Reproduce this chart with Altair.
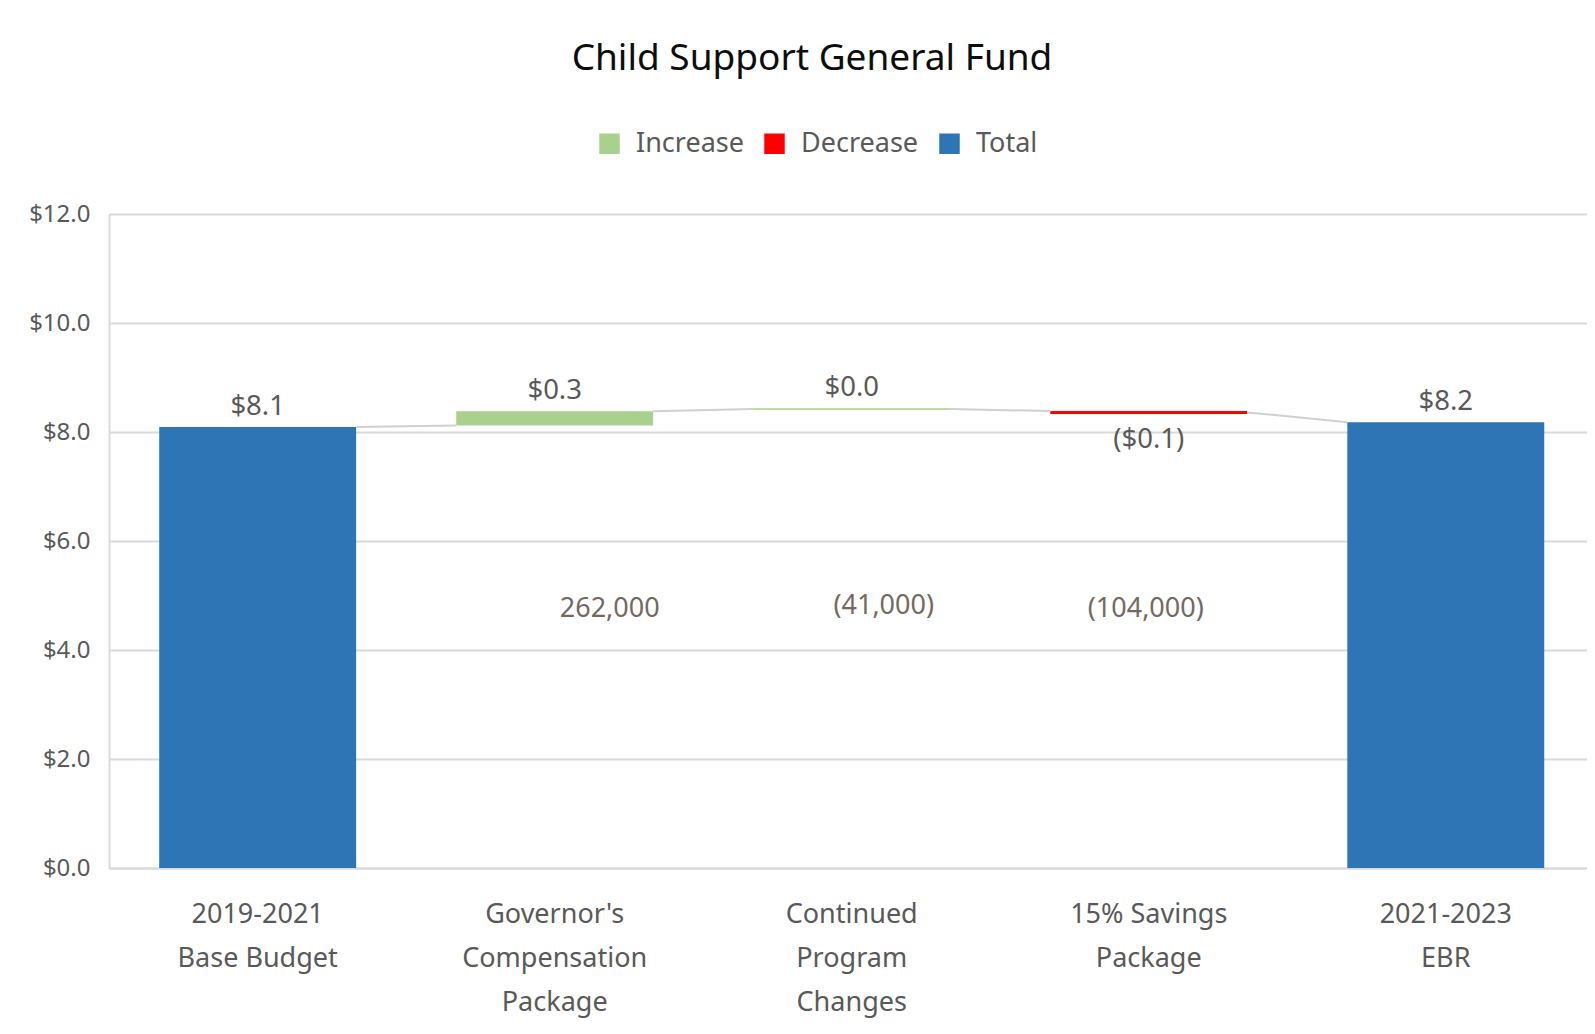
import altair as alt
import pandas as pd

# ---- data ----
categories = ["2019-2021|Base Budget", "Governor's|Compensation|Package",
              "Continued|Program|Changes", "15% Savings|Package", "2021-2023|EBR"]
kinds = ["Total", "Increase", "Increase", "Decrease", "Total"]
bar_start = [0.0, 8.12, 8.41, 8.385, 0.0]
bar_end = [8.09, 8.38, 8.435, 8.33, 8.18]
value_labels = ["$8.1", "$0.3", "$0.0", "($0.1)", "$8.2"]

conn_from = [8.09, 8.38, 8.42, 8.36]
conn_to = [8.12, 8.42, 8.385, 8.18]

note_cats = categories[1:4]
note_texts = ["262,000", "(41,000)", "(104,000)"]
note_y = [4.76, 4.81, 4.76]

legend_kinds = ["Increase", "Decrease", "Total"]
legend_colors = ["#a9d18e", "#ff0000", "#2e75b6"]
y_ticks = [0, 2, 4, 6, 8, 10, 12]

FONT = "Noto Sans"
GRAY = "#595959"

bars = pd.DataFrame({
    "cat": categories, "kind": kinds, "start": bar_start, "end": bar_end,
    "label": value_labels,
})
bars["top"] = bars[["start", "end"]].max(axis=1)
bars["bottom"] = bars[["start", "end"]].min(axis=1)

conn = pd.DataFrame({
    "cat": categories[:-1], "nxt": categories[1:], "y1": conn_from, "y2": conn_to,
})
notes = pd.DataFrame({"cat": note_cats, "note": note_texts, "ny": note_y})

xs = alt.Scale(domain=categories, paddingInner=0.337, paddingOuter=0.1565, align=0.54)
ys = alt.Scale(domain=[0, 12], nice=False, zero=True)

xax = alt.Axis(title=None, labelExpr="split(datum.label, '|')", labelAngle=0,
               labelFontSize=27, labelColor=GRAY, labelFont=FONT, labelLineHeight=44,
               labelPadding=33, ticks=False, domain=True, domainColor="#d9d9d9",
               domainWidth=2, grid=False, labelBaseline="top", labelLimit=0,
               labelOverlap=False)
yax = alt.Axis(title=None, values=y_ticks, format="$.1f", labelFontSize=24,
               labelColor=GRAY, labelFont=FONT, labelPadding=19, ticks=False,
               domain=True, domainColor="#d9d9d9", domainWidth=2, grid=True,
               gridColor="#d9d9d9", gridWidth=2)

X = alt.X("cat:N", scale=xs, sort=categories, axis=xax)

bar_layer = alt.Chart(bars).mark_bar().encode(
    x=X,
    y=alt.Y("start:Q", scale=ys, axis=yax),
    y2="end:Q",
    color=alt.Color("kind:N",
                    scale=alt.Scale(domain=legend_kinds, range=legend_colors),
                    legend=alt.Legend(orient="none", legendX=487, legendY=-84,
                                      direction="horizontal", title=None,
                                      symbolType="square", symbolSize=420,
                                      symbolStrokeWidth=0, symbolOpacity=1,
                                      labelFontSize=27, labelFont=FONT,
                                      labelColor=GRAY, labelOffset=13,
                                      columnPadding=17, padding=0)),
)

conn_layer = alt.Chart(conn).mark_rule(color="#d0d0d0", strokeWidth=2).encode(
    x=alt.X("cat:N", scale=xs, sort=categories, axis=xax, bandPosition=1),
    x2=alt.X2("nxt:N", bandPosition=0),
    y=alt.Y("y1:Q", scale=ys, axis=yax),
    y2="y2:Q",
)

above = alt.Chart(bars).transform_filter("datum.kind != 'Decrease'").mark_text(
    baseline="middle", dy=-20, fontSize=27.5, font=FONT, color=GRAY
).encode(x=X, y=alt.Y("top:Q", scale=ys, axis=yax), text="label:N")

below = alt.Chart(bars).transform_filter("datum.kind == 'Decrease'").mark_text(
    baseline="middle", dy=26, fontSize=27.5, font=FONT, color=GRAY
).encode(x=X, y=alt.Y("bottom:Q", scale=ys, axis=yax), text="label:N")

note_dx = [55, 32, -3]
note_layers = []
for i in range(len(note_texts)):
    note_layers.append(
        alt.Chart(notes.iloc[[i]]).mark_text(
            baseline="middle", dx=note_dx[i], fontSize=27, font=FONT, color="#75695f"
        ).encode(x=X, y=alt.Y("ny:Q", scale=ys, axis=yax), text="note:N")
    )

chart = alt.layer(bar_layer, conn_layer, above, below, *note_layers).properties(
    width=1478, height=654,
    autosize=alt.AutoSizeParams(type="none"),
    padding={"left": 101, "top": 206, "right": 0, "bottom": 150},
    title=alt.TitleParams("Child Support General Fund", fontSize=37, font=FONT,
                          color="#0d0d0d", fontWeight="normal", anchor="middle",
                          dx=-36, offset=52),
    background="white",
).configure_view(stroke=None)

chart.save("out.html", embed_options={"renderer": "svg", "actions": False})
